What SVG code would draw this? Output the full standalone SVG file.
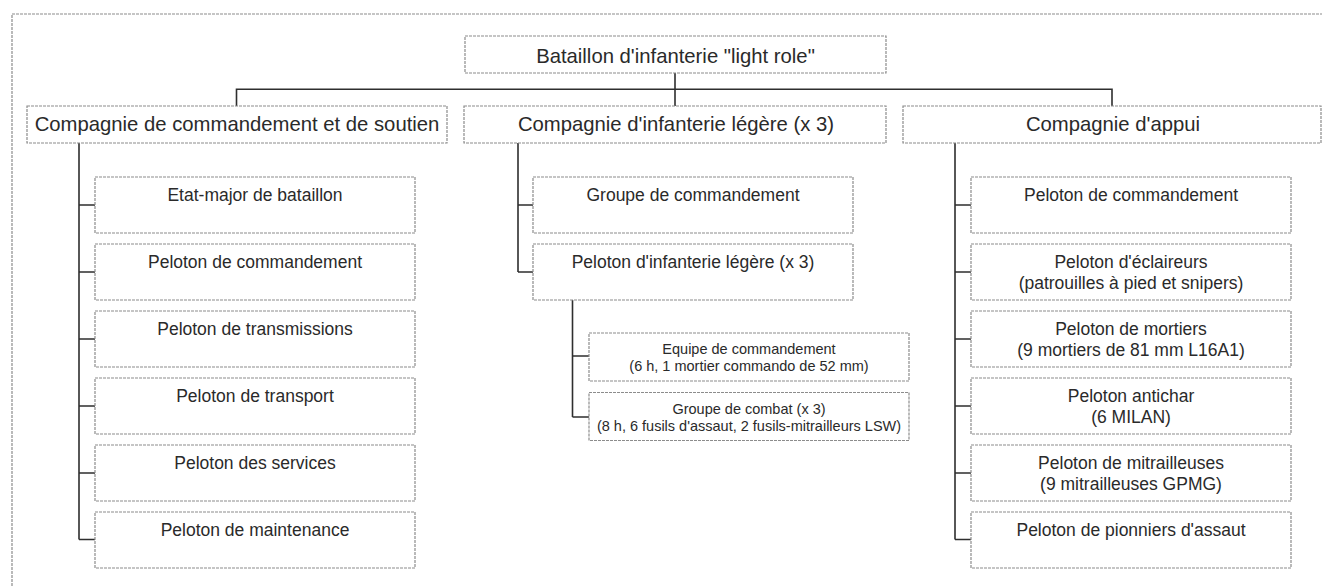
<svg xmlns="http://www.w3.org/2000/svg" width="1322" height="587" viewBox="0 0 1322 587">
<style>
.box{fill:#fff;stroke:#8c8c8c;stroke-width:1.2;stroke-dasharray:3 1}
.t{font-family:"Liberation Sans",Arial,sans-serif;fill:#2a2a2a;text-anchor:middle}
.l1{font-size:20.3px}
.l2{font-size:17.5px}
.l3{font-size:14.5px}
.c{fill:none;stroke:#2e2e2e;stroke-width:1.6}
</style>
<rect x="0" y="0" width="1322" height="587" fill="#fff"/>
<rect class="box" x="12" y="14" width="1320" height="600" fill="none"/>
<g id="connectors">
<path class="c" d="M675,73V106M236.5,106V89.3H1112V106"/>
<path class="c" d="M79,143V539.5M79,205H95M79,272H95M79,339H95M79,406H95M79,473H95M79,539.5H95"/>
<path class="c" d="M518,143V272M518,205H533M518,272H533"/>
<path class="c" d="M572.5,299V417M572.5,356H589M572.5,417H589"/>
<path class="c" d="M955,143V539.5M955,205H971M955,272H971M955,339H971M955,406H971M955,473H971M955,539.5H971"/>
</g>
<g id="n-bataillon"><rect class="box" x="465" y="36" width="421" height="37"/><text class="t l1" x="675.5" y="62.5">Bataillon d'infanterie "light role"</text></g>
<g id="n-ccs"><rect class="box" x="27" y="106" width="420" height="37"/><text class="t l1" x="237" y="131">Compagnie de commandement et de soutien</text></g>
<g id="n-cil"><rect class="box" x="464" y="106" width="422" height="37"/><text class="t l1" x="676" y="131">Compagnie d'infanterie légère (x 3)</text></g>
<g id="n-ca"><rect class="box" x="903" y="106" width="418" height="37"/><text class="t l1" x="1113" y="131">Compagnie d'appui</text></g>

<g id="n-em"><rect class="box" x="95" y="177" width="320" height="56"/><text class="t l2" x="255" y="201">Etat-major de bataillon</text></g>
<g id="n-pc1"><rect class="box" x="95" y="244" width="320" height="56"/><text class="t l2" x="255" y="268">Peloton de commandement</text></g>
<g id="n-ptr"><rect class="box" x="95" y="311" width="320" height="56"/><text class="t l2" x="255" y="335">Peloton de transmissions</text></g>
<g id="n-ptp"><rect class="box" x="95" y="378" width="320" height="56"/><text class="t l2" x="255" y="402">Peloton de transport</text></g>
<g id="n-pserv"><rect class="box" x="95" y="445" width="320" height="56"/><text class="t l2" x="255" y="469">Peloton des services</text></g>
<g id="n-pmaint"><rect class="box" x="95" y="512" width="320" height="56"/><text class="t l2" x="255" y="536">Peloton de maintenance</text></g>

<g id="n-gc"><rect class="box" x="533" y="177" width="320" height="56"/><text class="t l2" x="693" y="201">Groupe de commandement</text></g>
<g id="n-pil"><rect class="box" x="533" y="244" width="320" height="56"/><text class="t l2" x="693" y="268">Peloton d'infanterie légère (x 3)</text></g>
<g id="n-eq"><rect class="box" x="589" y="333" width="320" height="48"/><text class="t l3" x="749" y="353.5">Equipe de commandement</text><text class="t l3" x="749" y="371">(6 h, 1 mortier commando de 52 mm)</text></g>
<g id="n-gcb"><rect class="box" x="589" y="392.5" width="320" height="48"/><text class="t l3" x="749" y="413.5">Groupe de combat (x 3)</text><text class="t l3" x="749" y="431">(8 h, 6 fusils d'assaut, 2 fusils-mitrailleurs LSW)</text></g>

<g id="n-pc2"><rect class="box" x="971" y="177" width="320" height="56"/><text class="t l2" x="1131" y="201">Peloton de commandement</text></g>
<g id="n-pecl"><rect class="box" x="971" y="244" width="320" height="56"/><text class="t l2" x="1131" y="268">Peloton d'éclaireurs</text><text class="t l2" x="1131" y="288.5">(patrouilles à pied et snipers)</text></g>
<g id="n-pmort"><rect class="box" x="971" y="311" width="320" height="56"/><text class="t l2" x="1131" y="335">Peloton de mortiers</text><text class="t l2" x="1131" y="355.5">(9 mortiers de 81 mm L16A1)</text></g>
<g id="n-pac"><rect class="box" x="971" y="378" width="320" height="56"/><text class="t l2" x="1131" y="402">Peloton antichar</text><text class="t l2" x="1131" y="422.5">(6 MILAN)</text></g>
<g id="n-pmit"><rect class="box" x="971" y="445" width="320" height="56"/><text class="t l2" x="1131" y="469">Peloton de mitrailleuses</text><text class="t l2" x="1131" y="489.5">(9 mitrailleuses GPMG)</text></g>
<g id="n-ppa"><rect class="box" x="971" y="512" width="320" height="56"/><text class="t l2" x="1131" y="536">Peloton de pionniers d'assaut</text></g>
</svg>
